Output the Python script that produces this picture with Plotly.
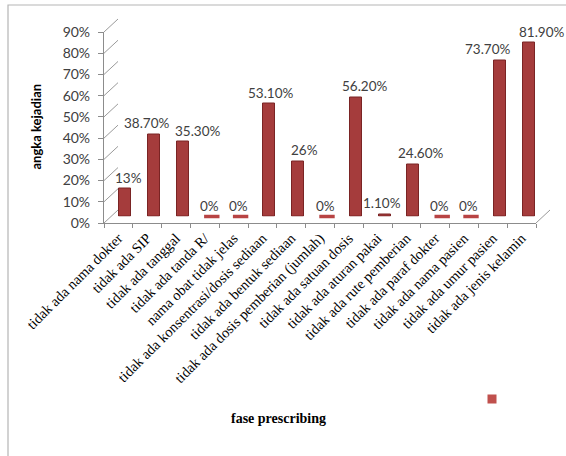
import plotly.graph_objects as go

categories = [
    "tidak ada nama dokter",
    "tidak ada SIP",
    "tidak ada tanggal",
    "tidak ada tanda R/",
    "nama obat tidak jelas",
    "tidak ada konsentrasi/dosis sediaan",
    "tidak ada bentuk sediaan",
    "tidak ada dosis pemberian (jumlah)",
    "tidak ada satuan dosis",
    "tidak ada aturan pakai",
    "tidak ada rute pemberian",
    "tidak ada paraf dokter",
    "tidak ada nama pasien",
    "tidak ada umur pasien",
    "tidak ada jenis kelamin",
]
values = [13, 38.7, 35.3, 0, 0, 53.1, 26, 0, 56.2, 1.1, 24.6, 0, 0, 73.7, 81.9]
y_ticks = [0, 10, 20, 30, 40, 50, 60, 70, 80, 90]
y_tick_text = ["0%", "10%", "20%", "30%", "40%", "50%", "60%", "70%", "80%", "90%"]
x_title = "fase prescribing"
y_title = "angka kejadian"

# horizontal nudges (pixels) of the data labels, as placed in the original
label_nudge_px = [3, -7, 15, -2, -2, 2, 6, -2, 9, -3, 8, -3, -3, -12, 13]

labels = [f"{v:.2f}%" if v % 1 else f"{int(v)}%" for v in values]

W, H = 566, 456
def px(x): return x / W
def py(y): return 1 - y / H

# front plane geometry (pixels)
FX0, FX1 = 104, 536
FY0, FY1 = 223, 32   # y of 0% and 90%
DX, DY = 14, 13      # depth offset
YMAX = 90

def dom_x(off): return [px(FX0 + off), px(FX1 + off)]
def dom_y(off): return [py(FY0 - off), py(FY1 - off)]

BAR = "#A53C3C"
GRID = "#9A9A9A"
TXT = "#404040"
NUM_FONT = "Lato"

fig = go.Figure()

# invisible trace registering the categories on the front (labelled) axis
fig.add_trace(go.Scatter(
    x=categories, y=[0] * len(categories), xaxis="x", yaxis="y", mode="markers",
    marker=dict(opacity=0), showlegend=False, hoverinfo="skip",
))
fig.add_trace(go.Bar(
    x=categories, y=values, xaxis="x2", yaxis="y2",
    marker=dict(color=BAR, line=dict(color="#7A2424", width=1)),
    width=0.42, showlegend=False,
))
zero_x = [c for c, v in zip(categories, values) if v == 0]
fig.add_trace(go.Scatter(
    x=zero_x, y=[0] * len(zero_x), xaxis="x2", yaxis="y2", mode="markers",
    marker=dict(symbol="line-ew", size=11, line=dict(color="#B84444", width=3.5)),
    showlegend=False, hoverinfo="skip", cliponaxis=False,
))
fig.add_trace(go.Scatter(
    x=[None], y=[None], xaxis="x", yaxis="y", mode="markers", name=" ",
    marker=dict(symbol="square", size=9, color="#C0504D"),
    showlegend=True,
))

annotations = []
for c, v, t, dx in zip(categories, values, labels, label_nudge_px):
    annotations.append(dict(
        x=c, y=v, xref="x2", yref="y2", text=t, showarrow=False,
        xanchor="center", yanchor="bottom", xshift=dx, yshift=1,
        font=dict(family=NUM_FONT, size=13.5, color=TXT),
    ))
annotations += [
    dict(text=f"<b>{y_title}</b>", xref="paper", yref="paper",
         x=px(35.5), y=py(127), xanchor="center", yanchor="middle",
         textangle=-90, showarrow=False,
         font=dict(family="Lato", size=13, color="black")),
    dict(text=f"<b>{x_title}</b>", xref="paper", yref="paper",
         x=px(278), y=py(418), xanchor="center", yanchor="middle", showarrow=False,
         font=dict(family="Liberation Serif", size=14, color="black")),
]

shapes = []
# left side-wall lines connecting front axis to back grid
for v in y_ticks:
    yf = FY0 - (FY0 - FY1) * v / YMAX
    shapes.append(dict(type="line", xref="paper", yref="paper",
                       x0=px(FX0), y0=py(yf), x1=px(FX0 + DX), y1=py(yf - DY),
                       line=dict(color=GRID, width=1), layer="below"))
# right floor edge
shapes.append(dict(type="line", xref="paper", yref="paper",
                   x0=px(FX1), y0=py(FY0), x1=px(FX1 + DX), y1=py(FY0 - DY),
                   line=dict(color=GRID, width=1), layer="below"))
# outer frame
shapes.append(dict(type="rect", xref="paper", yref="paper",
                   x0=px(8), y0=py(470), x1=px(580), y1=py(5),
                   line=dict(color="#B5B5B5", width=1.2), layer="below"))

rng = [-0.5, len(categories) - 0.5]
fig.update_layout(
    width=W, height=H, autosize=False,
    margin=dict(l=0, r=0, t=0, b=0),
    paper_bgcolor="white", plot_bgcolor="rgba(0,0,0,0)",
    bargap=0,
    shapes=shapes,
    annotations=annotations,
    xaxis=dict(domain=dom_x(0), anchor="y", type="category", range=rng,
               categoryorder="array", categoryarray=categories,
               showline=True, linecolor="#8C8C8C", linewidth=1.2,
               ticks="outside", tickson="boundaries", ticklen=4, tickcolor="#8C8C8C",
               tickangle=-45, showgrid=False, automargin=False,
               tickfont=dict(family="Liberation Serif", size=14.5, color="black")),
    yaxis=dict(domain=dom_y(0), anchor="x", range=[0, YMAX],
               tickmode="array", tickvals=y_ticks, ticktext=y_tick_text,
               showline=True, linecolor="#8C8C8C", linewidth=1.2,
               ticks="outside", ticklen=5, tickcolor="#8C8C8C", showgrid=False,
               zeroline=False, automargin=False, ticklabelstandoff=5,
               tickfont=dict(family=NUM_FONT, size=14, color=TXT)),
    xaxis2=dict(domain=dom_x(DX / 2), anchor="y2", type="category", range=rng,
                categoryorder="array", categoryarray=categories,
                visible=False, showgrid=False),
    yaxis2=dict(domain=dom_y(DY / 2), anchor="x2", range=[0, YMAX],
                visible=False, showgrid=False, zeroline=False),
    xaxis3=dict(domain=dom_x(DX), anchor="y3", type="category", range=rng,
                visible=False, showgrid=False),
    yaxis3=dict(domain=dom_y(DY), anchor="x3", range=[-0.01, YMAX + 0.01],
                tickvals=y_ticks, showgrid=True, gridcolor=GRID, gridwidth=1,
                showticklabels=False, zeroline=False, showline=False, ticks=""),
    legend=dict(x=px(472), y=py(399), xanchor="left", yanchor="middle",
                bgcolor="rgba(0,0,0,0)", font=dict(size=10)),
)

fig.write_html("out.html")
